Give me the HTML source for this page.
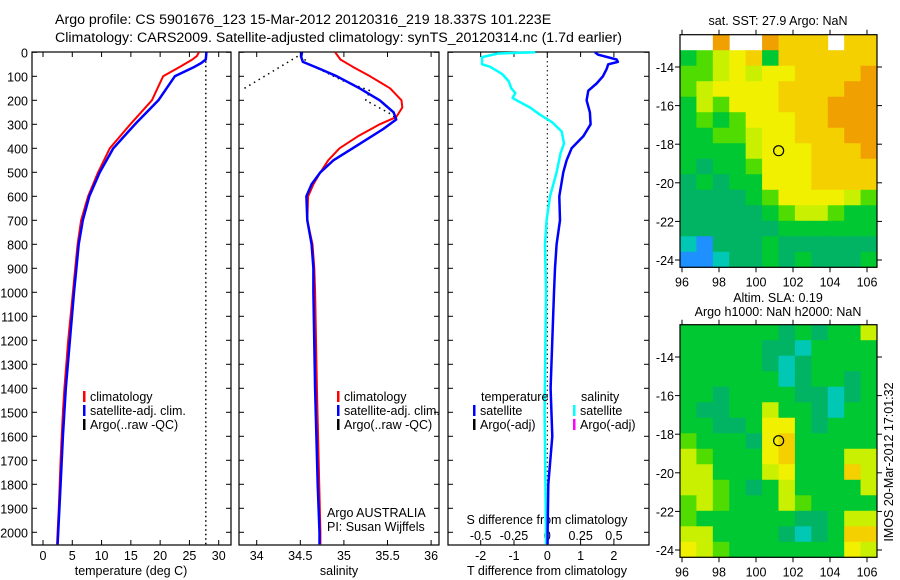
<!DOCTYPE html>
<html><head><meta charset="utf-8"><style>
html,body{margin:0;padding:0;background:#fff;}
svg{display:block;font-family:"Liberation Sans",sans-serif;}
text{fill:#000;}
</style></head>
<body>
<svg id="fig" width="900" height="580" viewBox="0 0 900 580" xmlns="http://www.w3.org/2000/svg">
<text x="55" y="24" font-size="14.2">Argo profile: CS 5901676_123 15-Mar-2012 20120316_219 18.337S 101.223E</text>
<text x="55" y="42" font-size="14.2">Climatology: CARS2009. Satellite-adjusted climatology: synTS_20120314.nc (1.7d earlier)</text>
<text x="778" y="25" font-size="12.5" text-anchor="middle">sat. SST: 27.9 Argo: NaN</text>
<text x="778" y="302" font-size="12.5" text-anchor="middle">Altim. SLA: 0.19</text>
<text x="778" y="316" font-size="12.5" text-anchor="middle">Argo h1000: NaN h2000: NaN</text>
<text transform="translate(893,462) rotate(-90)" font-size="12.5" text-anchor="middle">IMOS 20-Mar-2012 17:01:32</text>
<g id="g"></g>
</svg>
<script>
// ---- data ----
const depthTicks = [0,100,200,300,400,500,600,700,800,900,1000,1100,1200,1300,1400,1500,1600,1700,1800,1900,2000];
const tempTicks = [0,5,10,15,20,25,30];
const salTicks = [34,34.5,35,35.5,36];
const tdiffTicks = [-2,-1,0,1,2];
const sdiffTicks = [-0.5,-0.25,0,0.25,0.5];
const sdiffTickLabels = ["-0.5","-0.25","0","0.25","0.5"];
const lonTicks = [96,98,100,102,104,106];
const latTicks = [14,16,18,20,22,24];

const tClimDepth = [0,15,30,60,100,200,300,400,500,600,700,800,900,1000,1200,1400,1500,1600,1700,1800,1900,2000,2050];
const tClim =      [26.6,26.3,25.5,23.4,20.5,18.6,14.9,11.4,9.4,7.7,6.5,5.9,5.5,5.1,4.3,3.65,3.4,3.2,3.0,2.85,2.7,2.5,2.4];
const tSatDepth = [0,30,45,60,100,200,300,400,500,600,700,800,900,1000,1200,1400,1600,1800,2000,2050];
const tSat =      [27.9,27.8,27.0,25.9,22.5,19.7,15.7,12.0,9.7,7.9,6.8,6.1,5.7,5.3,4.6,3.9,3.4,3.0,2.6,2.5];
const tArgoDepth = [0,2050];
const tArgo = [27.8,27.8];

const sClimDepth = [0,30,60,100,150,200,230,270,300,350,400,450,500,550,600,700,800,900,1000,1400,2000,2050];
const sClim =      [34.9,34.96,35.1,35.3,35.53,35.66,35.67,35.6,35.41,35.16,34.95,34.82,34.73,34.65,34.59,34.58,34.64,34.66,34.67,34.69,34.73,34.73];
const sSatDepth = [0,20,40,70,100,150,200,250,280,320,400,450,500,550,600,700,800,900,1000,1400,1800,2000,2050];
const sSat =      [34.52,34.51,34.53,34.73,34.92,35.18,35.41,35.57,35.6,35.45,35.1,34.88,34.73,34.63,34.57,34.58,34.63,34.65,34.65,34.67,34.7,34.72,34.72];
const sArgoDepth = [150,10,50,120,160,200,260,275];
const sArgo = [33.86,34.5,34.6,35.0,35.3,35.25,35.55,35.6];

const sDiffDepth = [0,5,20,50,60,90,120,150,170,190,200,230,260,290,330,380,420,500,600,700,800,1000,1500,2000,2050];
const sDiff =      [-0.09,-0.37,-0.49,-0.49,-0.43,-0.34,-0.29,-0.27,-0.24,-0.26,-0.23,-0.13,-0.055,0.033,0.108,0.125,0.1,0.07,0.02,-0.005,-0.017,-0.01,-0.02,-0.01,-0.01];
const tDiffDepth = [0,10,30,40,50,70,100,130,160,200,250,300,350,400,450,500,600,700,800,900,1000,1400,1600,1800,2000,2050];
const tDiff =      [1.43,1.53,2.08,2.12,1.83,1.78,1.67,1.48,1.23,1.18,1.28,1.3,1.08,0.73,0.58,0.48,0.36,0.38,0.28,0.23,0.2,0.1,0.15,0.03,0.01,0.01];

const argoLon = [101.223];
const argoLat = [18.337];

const sstRows = [
"WW9WW9888W88",
"456784888888",
"556767788889",
"567777888899",
"465777888999",
"454577788999",
"445567788899",
"444467778889",
"434457778888",
"343447778888",
"333345777765",
"333334566544",
"333333444444",
"213334333333",
"112334343334"];
const slaRows = [
"444444343446",
"444443324444",
"444443234444",
"444444234434",
"443444433234",
"433446443244",
"443347743444",
"544437844444",
"654447844466",
"664446744486",
"665434644446",
"565444654444",
"544444433466",
"664444323488",
"765444444476"];
const cmap = ["#0a1a9a","#1e90ff","#00c8b4","#00b464","#00c832","#50dc00","#c8f000","#f0f000","#f5d000","#f0a000"];

// ---- helpers ----
const NS="http://www.w3.org/2000/svg";
const G=document.getElementById('g');
function mk(tag,attrs,parent){const e=document.createElementNS(NS,tag);for(const k in attrs)e.setAttribute(k,attrs[k]);(parent||G).appendChild(e);return e;}
const Y0=52.3, DY=0.24, PB=545;
const yD=d=>Y0+d*DY;
const xT=t=>43+t*5.857;
const xS=s=>256.7+(s-34)*87.2;
const xTD=t=>547.3+t*33.3;
const xSD=s=>547.3+s*133.3;
const panels=[[32,231],[239,439],[448,649]];

panels.forEach((p,i)=>{
  const r=mk('rect',{x:p[0],y:52,width:p[1]-p[0],height:PB-52,fill:'none',stroke:'#000','stroke-width':1.2});
  
  
  depthTicks.forEach(d=>{
    const y=yD(d);
    mk('line',{x1:p[0],x2:p[0]+5,y1:y,y2:y,stroke:'#000'});
    mk('line',{x1:p[1]-5,x2:p[1],y1:y,y2:y,stroke:'#000'});
  });
});
depthTicks.forEach(d=>{
  const t=mk('text',{x:28,y:yD(d)+5,'font-size':12.5,'text-anchor':'end'});
  t.textContent=d;
  
  
});
function xticks(vals,labels,fx,p,ly,top){
  vals.forEach((v,i)=>{
    const x=fx(v);
    mk('line',{x1:x,x2:x,y1:PB-5,y2:PB,stroke:'#000'});
    if(top) mk('line',{x1:x,x2:x,y1:52,y2:57,stroke:'#000'});
    const t=mk('text',{x:x,y:ly,'font-size':12.5,'text-anchor':'middle'});
    t.textContent=labels[i];
    
    
  });
}
xticks(tempTicks,tempTicks,xT,panels[0],560,true);
xticks(salTicks,salTicks,xS,panels[1],560,true);
xticks(tdiffTicks,tdiffTicks,xTD,panels[2],560,true);
sdiffTicks.forEach((v,i)=>{
  const t=mk('text',{x:xSD(v),y:540,'font-size':12.5,'text-anchor':'middle'});
  t.textContent=sdiffTickLabels[i];
  
  
});
[[131,'temperature (deg C)','x-axis-title-temperature'],[339,'salinity','x-axis-title-salinity'],[547,'T difference from climatology','x-axis-title-t-diff'],[547,'S difference from climatology','axis-title-s-diff']].forEach((a,i)=>{
  const t=mk('text',{x:a[0],y:i==3?524:575,'font-size':12.5,'text-anchor':'middle'});
  t.textContent=a[1];
  
  
});

function line(xs,ds,fx,color,w,name,dash){
  const pts=xs.map((v,i)=>fx(v).toFixed(1)+','+yD(ds[i]).toFixed(1)).join(' ');
  const a={points:pts,fill:'none',stroke:color,'stroke-width':w,'stroke-linejoin':'round'};
  if(dash)a['stroke-dasharray']=dash;
  const e=mk('polyline',a);
  
  
}
const zl=mk('line',{x1:xTD(0),x2:xTD(0),y1:52,y2:PB,stroke:'#000','stroke-dasharray':'1.5,3'});



line(tArgo,tArgoDepth,xT,'#000',1.5,'temp-argo-line','1.5,3');
line(tClim,tClimDepth,xT,'#ff0000',2,'temp-climatology-line');
line(tSat,tSatDepth,xT,'#0000ff',2.5,'temp-satellite-line');
line(sArgo,sArgoDepth,xS,'#000',1.5,'sal-argo-line','1.5,4');
line(sClim,sClimDepth,xS,'#ff0000',2,'sal-climatology-line');
line(sSat,sSatDepth,xS,'#0000ff',2.5,'sal-satellite-line');
line(sDiff,sDiffDepth,xSD,'#00ffff',2.5,'sal-diff-line');
line(tDiff,tDiffDepth,xTD,'#0000ff',2.5,'temp-diff-line');

function leg(x,y,color,label,name){
  if(color){const r=mk('rect',{x:x,y:y-10,width:2.5,height:11,fill:color});
    
    }
  const t=mk('text',{x:x+7,y:y,'font-size':12.5});
  t.textContent=label;
  
  
}
leg(83,401,'#ff0000','climatology','legend-climatology');
leg(83,415,'#0000ff','satellite-adj. clim.','legend-satellite-adj');
leg(83,429,'#000','Argo(..raw -QC)','legend-argo');
leg(337,401,'#ff0000','climatology','legend-sal-climatology');
leg(337,415,'#0000ff','satellite-adj. clim.','legend-sal-satellite-adj');
leg(337,429,'#000','Argo(..raw -QC)','legend-sal-argo');
leg(474,401,null,'temperature','legend-temperature-header');
leg(473,415,'#0000ff','satellite','legend-temp-satellite');
leg(473,429,'#000','Argo(-adj)','legend-temp-argo');
leg(574,401,null,'salinity','legend-salinity-header');
leg(573,415,'#00ffff','satellite','legend-sal-satellite');
leg(573,429,'#ff00ff','Argo(-adj)','legend-sal-argo');
leg(320,517,null,'Argo AUSTRALIA','argo-australia-label');
leg(320,531,null,'PI: Susan Wijffels','pi-label');

const MX0=680,MX1=877;
const xLon=l=>682+(l-96)*18.5;
function drawMap(rows,top,name){
  const bottom=top+232.6, nr=rows.length, nc=rows[0].length;
  const cw=(MX1-MX0)/nc, ch=(bottom-top)/nr;
  rows.forEach((row,r)=>{
    [...row].forEach((c,k)=>{
      if(c==='W')return;
      const e=mk('rect',{x:(MX0+k*cw).toFixed(2),y:(top+r*ch).toFixed(2),width:(cw+0.4).toFixed(2),height:(ch+0.4).toFixed(2),fill:cmap[+c]});
      
      
    });
  });
  const yLat=l=>top+32.3+(l-14)*19.3;
  const f=mk('rect',{x:MX0,y:top,width:MX1-MX0,height:232.6,fill:'none',stroke:'#000','stroke-width':1.2});
  
  
  lonTicks.forEach(l=>{
    const x=xLon(l);
    mk('line',{x1:x,x2:x,y1:top-5,y2:top,stroke:'#000'});
    mk('line',{x1:x,x2:x,y1:bottom,y2:bottom+5,stroke:'#000'});
    const t=mk('text',{x:x,y:bottom+19,'font-size':12.5,'text-anchor':'middle'});
    t.textContent=l;
    
    
  });
  latTicks.forEach(l=>{
    const y=yLat(l);
    mk('line',{x1:MX0-5,x2:MX0,y1:y,y2:y,stroke:'#000'});
    mk('line',{x1:MX1,x2:MX1+5,y1:y,y2:y,stroke:'#000'});
    const t=mk('text',{x:674,y:y+5,'font-size':12.5,'text-anchor':'end'});
    t.textContent='-'+l;
    
    
  });
  argoLon.forEach((lo,i)=>{
    const c=mk('circle',{cx:xLon(lo),cy:yLat(argoLat[i]),r:5,fill:'none',stroke:'#000','stroke-width':1.2});
    
    
  });
}
drawMap(sstRows,34.7,'sst-map');
drawMap(slaRows,324.7,'sla-map');
</script>
</body></html>
